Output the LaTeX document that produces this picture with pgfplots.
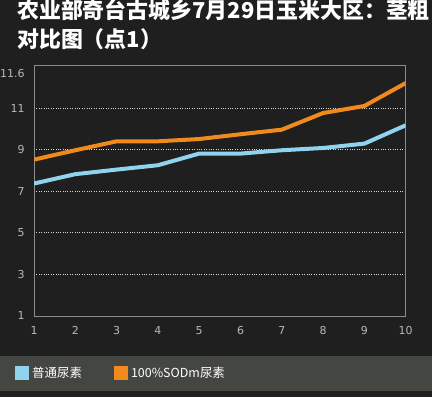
\documentclass[border=0pt]{standalone}
\usepackage{pgfplots}
\pgfplotsset{compat=1.18}
\usepackage{fontspec}
\setmainfont{DejaVu Sans}
\newfontfamily\cjk{Noto Sans CJK SC}
\definecolor{bgcol}{HTML}{1F1F1F}
\definecolor{legbg}{HTML}{444641}
\definecolor{gridcol}{HTML}{D8D8D8}
\definecolor{framecol}{HTML}{8C8C8C}
\definecolor{tickcol}{HTML}{B8B8B8}
\definecolor{blueline}{HTML}{8FD3EF}
\definecolor{orangeline}{HTML}{F08A1C}
\begin{document}
\begin{tikzpicture}
\useasboundingbox (0bp,0bp) rectangle (432bp,397bp);
\fill[bgcol] (0bp,0bp) rectangle (432bp,397bp);
\fill[legbg] (0bp,6bp) rectangle (432bp,41bp);
\node[anchor=base west, text=white, inner sep=0pt, font=\cjk\bfseries\fontsize{22}{22}\selectfont] at (17bp,378bp) {农业部奇台古城乡7月29日玉米大区：茎粗};
\node[anchor=base west, text=white, inner sep=0pt, font=\cjk\bfseries\fontsize{22}{22}\selectfont] at (17bp,349bp) {对比图（点1）};
\begin{axis}[
  at={(34bp,81bp)}, anchor=south west,
  scale only axis, width=371.7bp, height=251bp,
  xmin=1, xmax=10, ymin=1, ymax=13.07,
  xtick={1,...,10},
  ytick={1,3,5,7,9,11},
  extra y ticks={12.65}, extra y tick labels={11.6},
  extra y tick style={grid=none},
  ymajorgrids,
  major grid style={dotted, color=gridcol, line width=0.8bp},
  axis line style={color=framecol, line width=0.8bp},
  major tick length=0pt,
  tick label style={text=tickcol, font=\fontsize{11}{11}\selectfont},
  /pgf/number format/assume math mode=true,
  xticklabel style={yshift=-7bp},
  yticklabel style={xshift=-6bp},
  legend columns=2,
  legend image code/.code={\fill[#1] (0bp,-5bp) rectangle (10bp,5bp);},
  legend style={at={(-0.051,-0.226)}, anchor=west, draw=none, fill=none,
    text=white, font=\cjk\fontsize{12.5}{12.5}\selectfont,
    inner sep=0pt,
    /tikz/every odd column/.append style={column sep=1bp},
    /tikz/every even column/.append style={column sep=30bp}},
]
\addplot[color=blueline, line width=4bp] coordinates {
(1,7.37) (2,7.82) (3,8.04) (4,8.25) (5,8.81) (6,8.81) (7,8.97) (8,9.08) (9,9.29) (10,10.17)};
\addlegendentry{普通尿素}
\addplot[color=orangeline, line width=4bp] coordinates {
(1,8.52) (2,8.97) (3,9.40) (4,9.40) (5,9.51) (6,9.74) (7,9.96) (8,10.76) (9,11.10) (10,12.20)};
\addlegendentry{100\%SODm尿素}
\end{axis}
\end{tikzpicture}
\end{document}
